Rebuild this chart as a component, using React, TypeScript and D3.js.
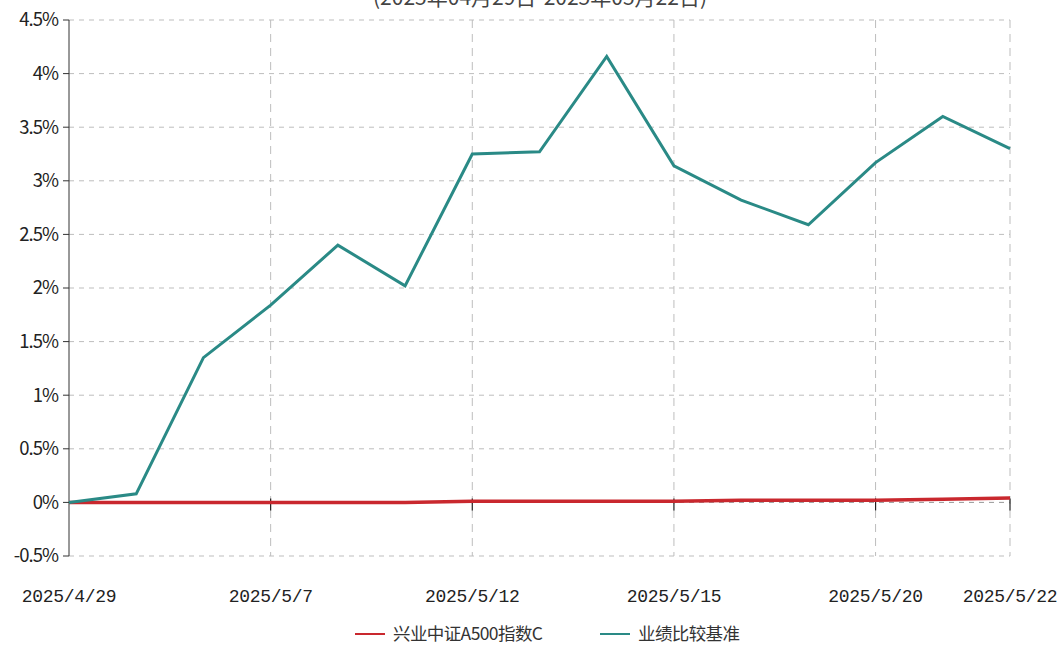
import { useEffect, useRef } from 'react';
import * as d3 from 'd3';

const W = 1059;
const H = 649;
const M = { top: 20, right: 49, bottom: 93, left: 69 };

const dates = [
  '2025/4/29', '2025/4/30', '2025/5/6', '2025/5/7', '2025/5/8', '2025/5/9',
  '2025/5/12', '2025/5/13', '2025/5/14', '2025/5/15', '2025/5/16', '2025/5/19',
  '2025/5/20', '2025/5/21', '2025/5/22',
];
const fundValues = [0, 0, 0, 0, 0, 0, 0.01, 0.01, 0.01, 0.01, 0.02, 0.02, 0.02, 0.03, 0.04];
const benchValues = [0, 0.08, 1.35, 1.84, 2.4, 2.02, 3.25, 3.27, 4.16, 3.14, 2.82, 2.59, 3.17, 3.6, 3.3];
const yTicks = [-0.5, 0, 0.5, 1, 1.5, 2, 2.5, 3, 3.5, 4, 4.5];
const xLabels = ['2025/4/29', '2025/5/7', '2025/5/12', '2025/5/15', '2025/5/20', '2025/5/22'];
const seriesNames = ['兴业中证A500指数C', '业绩比较基准'];
const title = '(2025年04月29日-2025年05月22日)';

const RED = '#c9282e';
const TEAL = '#2a8a86';

export default function App() {
  const svgRef = useRef<SVGSVGElement>(null);

  useEffect(() => {
    if (!svgRef.current) return;
    const svg = d3.select(svgRef.current);
    svg.selectAll('*').remove();

    const iW = W - M.left - M.right;
    const iH = H - M.top - M.bottom;

    const x = d3.scalePoint<string>().domain(dates).range([0, iW]);
    const y = d3.scaleLinear([-0.5, 4.5], [iH, 0]);

    svg.append('rect').attr('width', W).attr('height', H).attr('fill', '#fff');

    // Title (the top of it falls outside the picture, as in the source)
    svg.append('text')
      .attr('x', 540)
      .attr('y', 5)
      .attr('text-anchor', 'middle')
      .attr('font-family', '"Noto Sans CJK SC", sans-serif')
      .attr('font-size', 21)
      .attr('fill', '#444')
      .text(title);

    const g = svg.append('g').attr('transform', `translate(${M.left},${M.top})`);

    // Horizontal grid
    yTicks.forEach(v => {
      g.append('line')
        .attr('x1', 0).attr('x2', iW)
        .attr('y1', y(v)).attr('y2', y(v))
        .attr('stroke', v === 0 ? '#999' : '#bdbdbd')
        .attr('stroke-width', 1)
        .attr('stroke-dasharray', '5 5');
    });

    // Vertical grid
    xLabels.slice(1).forEach(d => {
      g.append('line')
        .attr('x1', x(d)!).attr('x2', x(d)!)
        .attr('y1', 0).attr('y2', iH)
        .attr('stroke', '#bdbdbd')
        .attr('stroke-width', 1)
        .attr('stroke-dasharray', '8 6');
    });

    // Y axis
    g.append('line')
      .attr('x1', 0).attr('x2', 0)
      .attr('y1', 0).attr('y2', iH)
      .attr('stroke', '#333');
    yTicks.forEach(v => {
      g.append('line')
        .attr('x1', -6).attr('x2', 0)
        .attr('y1', y(v)).attr('y2', y(v))
        .attr('stroke', '#333');
      g.append('text')
        .attr('x', -11)
        .attr('y', y(v))
        .attr('dy', '0.35em')
        .attr('text-anchor', 'end')
        .attr('font-family', '"Noto Sans CJK SC", sans-serif')
        .attr('font-size', 18.5)
        .attr('letter-spacing', -1)
        .attr('fill', '#222')
        .text(`${v}%`);
    });

    // X ticks on the zero line, labels at the bottom
    xLabels.slice(1).forEach(d => {
      g.append('line')
        .attr('x1', x(d)!).attr('x2', x(d)!)
        .attr('y1', y(0) - 4).attr('y2', y(0) + 8)
        .attr('stroke', '#222')
        .attr('stroke-width', 1.2);
    });
    xLabels.forEach(d => {
      g.append('text')
        .attr('x', x(d)!)
        .attr('y', iH + 46)
        .attr('text-anchor', 'middle')
        .attr('font-family', '"Liberation Mono", monospace')
        .attr('font-size', 18)
        .attr('letter-spacing', -0.3)
        .attr('fill', '#222')
        .text(d);
    });

    const line = (vals: number[]) =>
      d3.line<number>()
        .x((_, i) => x(dates[i])!)
        .y(v => y(v))(vals) ?? '';

    g.append('path')
      .attr('d', line(fundValues))
      .attr('fill', 'none')
      .attr('stroke', RED)
      .attr('stroke-width', 3.5);

    g.append('path')
      .attr('d', line(benchValues))
      .attr('fill', 'none')
      .attr('stroke', TEAL)
      .attr('stroke-width', 3);

    // Legend
    const lg = svg.append('g').attr('transform', 'translate(0,634)');
    const items = [
      { name: seriesNames[0], color: RED, x: 355 },
      { name: seriesNames[1], color: TEAL, x: 600 },
    ];
    items.forEach(it => {
      lg.append('line')
        .attr('x1', it.x).attr('x2', it.x + 30)
        .attr('y1', 0).attr('y2', 0)
        .attr('stroke', it.color)
        .attr('stroke-width', 2);
      lg.append('text')
        .attr('x', it.x + 38)
        .attr('y', 0)
        .attr('dy', '0.35em')
        .attr('font-family', '"Noto Sans CJK SC", sans-serif')
        .attr('font-size', 17.5)
        .attr('letter-spacing', -0.6)
        .attr('fill', '#333')
        .text(it.name);
    });
  }, []);

  return (
    <svg
      ref={svgRef}
      width={W}
      height={H}
      style={{ position: 'fixed', left: 0, top: 0, display: 'block' }}
    />
  );
}
